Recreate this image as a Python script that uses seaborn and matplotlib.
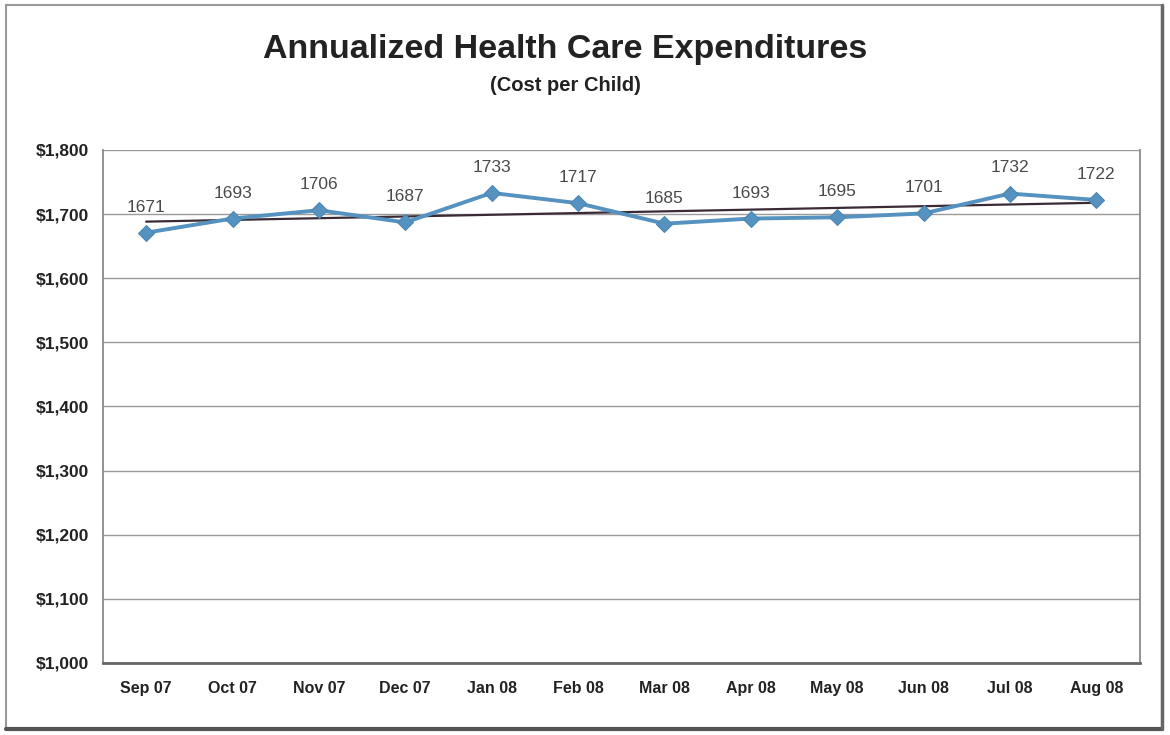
import numpy as np
import pandas as pd
import matplotlib
matplotlib.use("Agg")
import matplotlib.pyplot as plt
from matplotlib.patches import Rectangle
from matplotlib.ticker import FuncFormatter, MultipleLocator
import seaborn as sns

months = ["Sep 07", "Oct 07", "Nov 07", "Dec 07", "Jan 08", "Feb 08",
          "Mar 08", "Apr 08", "May 08", "Jun 08", "Jul 08", "Aug 08"]
cost_per_child = [1671, 1693, 1706, 1687, 1733, 1717,
                  1685, 1693, 1695, 1701, 1732, 1722]

title = "Annualized Health Care Expenditures"
subtitle = "(Cost per Child)"

sns.set_theme(style="white")
plt.rcParams["font.family"] = ["Liberation Sans", "DejaVu Sans"]

df = pd.DataFrame({"month": months, "cost": cost_per_child})
idx = np.arange(len(months))

fig = plt.figure(figsize=(11.7, 7.35), dpi=100)
ax = fig.add_axes([0.088, 0.098, 0.886, 0.698])

# horizontal gridlines
for yv in range(1000, 1801, 100):
    ax.axhline(yv, color="#9a9a9a", lw=1.0, zorder=0)

# linear trendline through the monthly values
slope, intercept = np.polyfit(idx, df["cost"], 1)
trend = pd.DataFrame({"x": idx, "y": slope * idx + intercept})
sns.lineplot(data=trend, x="x", y="y", ax=ax, color="#3a2a35", lw=1.6,
             zorder=2, legend=False)

sns.lineplot(x=idx, y=df["cost"], ax=ax, sort=False, color="#5592bf",
             lw=2.8, marker="D", markersize=8, markeredgecolor="#4a87b4",
             zorder=3, legend=False)

for i, v in zip(idx, df["cost"]):
    ax.annotate(f"{v}", (i, v), xytext=(0, 13), textcoords="offset points",
                ha="center", va="bottom", fontsize=12.5, color="#4a4a4a")

ax.set_xlim(-0.5, len(months) - 0.5)
ax.set_ylim(1000, 1800)
ax.yaxis.set_major_locator(MultipleLocator(100))
ax.yaxis.set_major_formatter(FuncFormatter(lambda v, p: f"${v:,.0f}"))
ax.set_xticks(idx)
ax.set_xticklabels(months)
ax.set_xlabel("")
ax.set_ylabel("")
ax.tick_params(axis="y", labelsize=12.5, colors="#222222", length=4,
               width=1, pad=6)
ax.tick_params(axis="x", labelsize=11.5, colors="#222222", length=0, pad=13)
for lab in ax.get_xticklabels() + ax.get_yticklabels():
    lab.set_fontweight("bold")

for side in ["left", "bottom", "right"]:
    ax.spines[side].set_visible(True)
    ax.spines[side].set_color("#8a8a8a")
    ax.spines[side].set_linewidth(1.3)
ax.spines["top"].set_visible(False)
ax.spines["bottom"].set_color("#666666")
ax.spines["bottom"].set_linewidth(2)

fig.text(0.483, 0.932, title, ha="center", va="center", fontsize=24.5,
         fontweight="bold", color="#222222")
fig.text(0.483, 0.884, subtitle, ha="center", va="center", fontsize=14.5,
         fontweight="bold", color="#222222")

# outer chart frame with a darker lower/right edge
fig.patches.append(Rectangle((0.005, 0.008), 0.988, 0.985,
                             transform=fig.transFigure, fill=False,
                             edgecolor="#9a9a9a", lw=1.5))
fig.lines.append(plt.Line2D([0.005, 0.993], [0.008, 0.008],
                            transform=fig.transFigure, color="#555555", lw=3))
fig.lines.append(plt.Line2D([0.993, 0.993], [0.008, 0.993],
                            transform=fig.transFigure, color="#666666", lw=2.5))

fig.savefig("out.png", dpi=100, facecolor="white")
